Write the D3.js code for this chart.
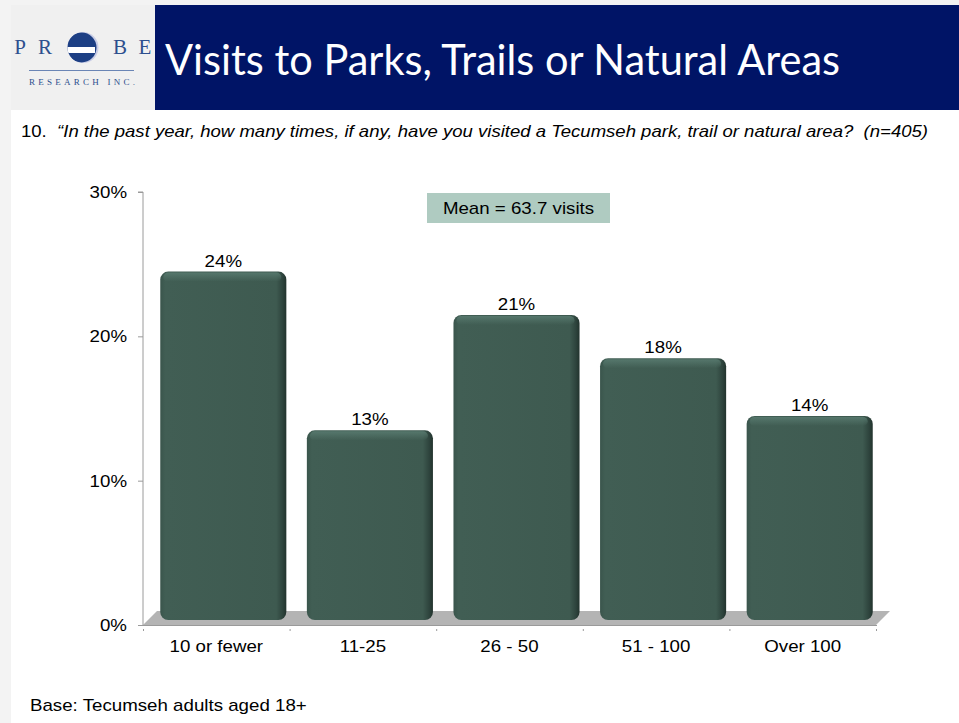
<!DOCTYPE html>
<html>
<head>
<meta charset="utf-8">
<script src="https://cdn.jsdelivr.net/npm/d3@7"></script>
<style>
  html, body { margin: 0; padding: 0; background: #f3f3f3; }
  svg { display: block; }
</style>
</head>
<body>
<svg id="chart" width="959" height="723"></svg>
<script>
(function(){
	'use strict';

	var categories = ['10 or fewer', '11-25', '26 - 50', '51 - 100', 'Over 100'];
	var percents = [24, 13, 21, 18, 14];
	var yTicks = [0, 10, 20, 30];
	var meanText = 'Mean = 63.7 visits';

	var svg = d3.select('#chart');
	var font = 'Liberation Sans, Arial, sans-serif';
	var fs = '17px';

	// slide background
	svg.append('rect').attr('x', 11).attr('y', 5).attr('width', 948).attr('height', 718).attr('fill', '#ffffff');
	svg.append('rect').attr('x', 11).attr('y', 5).attr('width', 144).attr('height', 105).attr('fill', '#f0f0f0');
	svg.append('rect').attr('x', 155).attr('y', 5).attr('width', 804).attr('height', 105).attr('fill', '#001466');

	svg.append('text')
		.attr('class', 'title')
		.attr('x', 165).attr('y', 75)
		.attr('fill', '#ffffff')
		.style('font-family', 'Lato, Open Sans, sans-serif')
		.style('font-size', '42px')
		.text('Visits to Parks, Trails or Natural Areas');

	// logo
	var logo = svg.append('g');
	var blue = '#2d4f8e';
	[['P', 20], ['R', 45], ['B', 120], ['E', 145]].forEach(function(l){
		logo.append('text').attr('x', l[1]).attr('y', 54).attr('text-anchor', 'middle')
			.attr('fill', blue).style('font-family', 'Liberation Serif, serif').style('font-size', '21px')
			.text(l[0]);
	});
	var defs = svg.append('defs');
	defs.append('clipPath').attr('id', 'logoClip')
		.append('circle').attr('cx', 83).attr('cy', 47.5).attr('r', 15.5);
	var lg = logo.append('g').attr('clip-path', 'url(#logoClip)');
	lg.append('rect').attr('x', 66).attr('y', 30).attr('width', 34).attr('height', 36).attr('fill', '#c9cde6');
	lg.append('circle').attr('cx', 81.5).attr('cy', 47.5).attr('r', 15).attr('fill', '#1d3f84');
	lg.append('rect').attr('x', 66).attr('y', 47).attr('width', 29).attr('height', 6).attr('fill', '#ffffff');
	logo.append('line').attr('x1', 29).attr('x2', 134).attr('y1', 70.5).attr('y2', 70.5)
		.attr('stroke', '#6a85b5').attr('stroke-width', 1);
	logo.append('text').attr('x', 29).attr('y', 85)
		.attr('fill', blue).style('font-family', 'Liberation Serif, serif').style('font-size', '9px')
		.attr('textLength', 106).attr('lengthAdjust', 'spacing')
		.text('RESEARCH INC.');

	// question
	var q = svg.append('text').attr('class', 'question').attr('x', 21).attr('y', 137)
		.style('font-family', font).style('font-size', fs).attr('fill', '#000');
	q.append('tspan').text('10.\u00a0\u00a0');
	q.append('tspan').style('font-style', 'italic')
		.text('\u201cIn the past year, how many times, if any, have you visited a Tecumseh park, trail or natural area?\u00a0\u00a0(n=405)');

	// chart
	var x0 = 143, x1 = 876, yBase = 625, yTop = 192;
	var depth = 14;

	var x = d3.scaleBand().domain(categories).range([x0, x1]).paddingInner(0.14).paddingOuter(0.07);
	var xTicks = d3.scaleBand().domain(categories).range([x0, x1]);
	var y = d3.scaleLinear().domain([0, 30]).range([yBase, yTop]);

	// floor
	svg.append('polygon')
		.attr('points', [[x0, yBase], [x0 + depth, yBase - depth], [x1 + depth, yBase - depth], [x1, yBase]].join(' '))
		.attr('fill', '#b4b4b4');

	// axes
	var yAxis = d3.axisLeft(y).tickValues(yTicks).tickSize(5).tickFormat(function(d){ return d + '%'; });
	var gy = svg.append('g').attr('transform', 'translate(' + x0 + ',0)').call(yAxis);
	gy.select('.domain').attr('stroke', '#9a9a9a').attr('d', 'M-5,' + yTop + 'H0V' + yBase);
	gy.selectAll('.tick line').attr('stroke', '#9a9a9a');
	gy.selectAll('.tick text').attr('class', 'st').attr('x', -16).style('font-family', font).style('font-size', fs).attr('fill', '#000');

	var gx = svg.append('g').attr('transform', 'translate(0,' + yBase + ')');
	gx.append('line').attr('x1', x0).attr('x2', x1).attr('y1', 0.5).attr('y2', 0.5).attr('stroke', '#9a9a9a');
	gx.selectAll('line.tk').data(categories.concat(['end'])).enter().append('line')
		.attr('class', 'tk')
		.attr('x1', function(d, i){ return i < categories.length ? xTicks(d) + 0.5 : x1 + 0.5; })
		.attr('x2', function(d, i){ return i < categories.length ? xTicks(d) + 0.5 : x1 + 0.5; })
		.attr('y1', 0).attr('y2', 6).attr('stroke', '#9a9a9a');
	gx.selectAll('text').data(categories).enter().append('text')
		.attr('class', 'st')
		.attr('x', function(d){ return xTicks(d) + xTicks.bandwidth() / 2; })
		.attr('y', 27).attr('text-anchor', 'middle')
		.style('font-family', font).style('font-size', fs).attr('fill', '#000')
		.text(function(d){ return d; });

	// bar gradient
	var grad = defs.append('linearGradient').attr('id', 'barGrad').attr('x1', 0).attr('x2', 1).attr('y1', 0).attr('y2', 0);
	grad.append('stop').attr('offset', '0%').attr('stop-color', '#3a554c');
	grad.append('stop').attr('offset', '4%').attr('stop-color', '#415e54');
	grad.append('stop').attr('offset', '92%').attr('stop-color', '#3e5a50');
	grad.append('stop').attr('offset', '97%').attr('stop-color', '#2e443d');
	grad.append('stop').attr('offset', '100%').attr('stop-color', '#22332d');
	var topGrad = defs.append('linearGradient').attr('id', 'topGrad').attr('x1', 0).attr('x2', 0).attr('y1', 0).attr('y2', 1);
	topGrad.append('stop').attr('offset', '0%').attr('stop-color', '#587a6f').attr('stop-opacity', 0.9);
	topGrad.append('stop').attr('offset', '100%').attr('stop-color', '#587a6f').attr('stop-opacity', 0);

	var shift = depth / 2;
	var bars = svg.append('g').selectAll('g.bar').data(percents).enter().append('g').attr('class', 'bar');
	bars.append('rect')
		.attr('x', function(d, i){ return x(categories[i]) + shift; })
		.attr('y', function(d){ return y(d) - shift; })
		.attr('width', x.bandwidth())
		.attr('height', function(d){ return yBase - y(d) + 2; })
		.attr('rx', 8).attr('ry', 8)
		.attr('fill', 'url(#barGrad)');
	bars.append('rect')
		.attr('x', function(d, i){ return x(categories[i]) + shift + 3; })
		.attr('y', function(d){ return y(d) - shift + 1; })
		.attr('width', x.bandwidth() - 8)
		.attr('height', 9)
		.attr('rx', 5)
		.attr('fill', 'url(#topGrad)');
	// cover the bottom overlap below the floor front edge
	svg.append('rect').attr('x', x0 - 1).attr('y', yBase + 1).attr('width', x1 - x0 + 4).attr('height', 3).attr('fill', '#fff');
	bars.append('text')
		.attr('class', 'st')
		.attr('x', function(d, i){ return x(categories[i]) + shift + x.bandwidth() / 2; })
		.attr('y', function(d){ return y(d) - shift - 5; })
		.attr('text-anchor', 'middle')
		.style('font-family', font).style('font-size', fs).attr('fill', '#000')
		.text(function(d){ return d + '%'; });

	// mean box
	svg.append('rect').attr('x', 427).attr('y', 193).attr('width', 183).attr('height', 30).attr('fill', '#afcbc1');
	svg.append('text').attr('class', 'st').attr('x', 518.5).attr('y', 214).attr('text-anchor', 'middle')
		.style('font-family', font).style('font-size', fs).attr('fill', '#000')
		.text(meanText);

	// base
	svg.append('text').attr('class', 'st').attr('x', 30).attr('y', 711)
		.style('font-family', font).style('font-size', fs).attr('fill', '#000')
		.text('Base: Tecumseh adults aged 18+');

	// the source slide text is drawn slightly wide; stretch it the same way
	svg.selectAll('text.st').each(function(){
		var w = this.getComputedTextLength();
		d3.select(this).attr('textLength', w * 1.1).attr('lengthAdjust', 'spacingAndGlyphs');
	});
	svg.select('text.question').attr('textLength', 907).attr('lengthAdjust', 'spacingAndGlyphs');
	svg.select('text.title').attr('textLength', 675).attr('lengthAdjust', 'spacingAndGlyphs');
})();
</script>
</body>
</html>
